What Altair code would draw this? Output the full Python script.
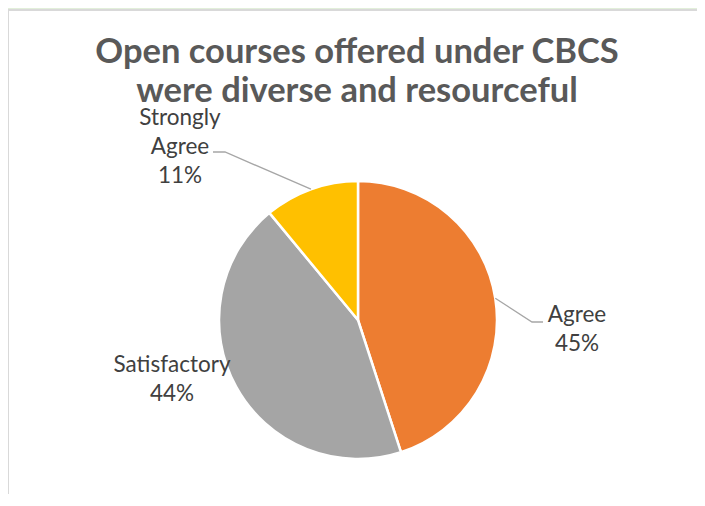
import math
import altair as alt
import pandas as pd

# ---- data ----
categories = ["Agree", "Satisfactory", "Strongly Agree"]
values = [45, 44, 11]
label_names = ["Agree", "Satisfactory", "Strongly\nAgree"]
colors = ["#ED7D31", "#A5A5A5", "#FFC000"]
title_lines = ["Open courses offered under CBCS", "were diverse and resourceful"]

# ---- layout (styles / positions, not data) ----
W, H = 689, 486
CX, CY, R = 350, 312, 139
# offset of the first label line from the pie centre
label_offset = {"Agree": (219, -5), "Satisfactory": (-186, 45), "Strongly Agree": (-178, -202)}
leader_tail = {"Agree": [(174, 2), (185, 2)], "Strongly Agree": [(-133, -168), (-145, -168)]}

total = sum(values)
pie_df = pd.DataFrame({"category": categories, "value": values, "idx": list(range(len(values)))})

# label table
lab_rows = []
for c, v, n in zip(categories, values, label_names):
    ox, oy = label_offset[c]
    lab_rows.append({"category": c, "label": f"{n}\n{round(v / total * 100)}%", "lx": CX + ox, "ly": CY + oy})
lab_df = pd.DataFrame(lab_rows)

# leader lines: start at slice mid-angle on the rim
line_rows = []
cum = 0
for c, v in zip(categories, values):
    mid = (cum + v / 2) / total * 2 * math.pi
    cum += v
    if c not in leader_tail:
        continue
    pts = [(CX + R * math.sin(mid), CY - R * math.cos(mid))]
    pts += [(CX + dx, CY + dy) for dx, dy in leader_tail[c]]
    for i, (px, py) in enumerate(pts):
        line_rows.append({"category": c, "p": i, "lx": px, "ly": py})
line_df = pd.DataFrame(line_rows)

sx = alt.Scale(domain=[0, W], range=[0, W], nice=False, zero=False)
sy = alt.Scale(domain=[0, H], range=[0, H], nice=False, zero=False)

one = pd.DataFrame({"a": [0]})
frame_green = alt.Chart(one).mark_rect(color="#E2EFDA").encode(
    x=alt.value(0), x2=alt.value(W), y=alt.value(0), y2=alt.value(1))
frame_top = alt.Chart(one).mark_rect(color="#D9D9D9").encode(
    x=alt.value(0), x2=alt.value(W), y=alt.value(1), y2=alt.value(3))
frame_left = alt.Chart(one).mark_rect(color="#D9D9D9").encode(
    x=alt.value(0), x2=alt.value(1), y=alt.value(1), y2=alt.value(H))

arcs = alt.Chart(pie_df).mark_arc(outerRadius=R, stroke="white", strokeWidth=2.5).encode(
    theta=alt.Theta("value:Q", stack=True),
    color=alt.Color("category:N", scale=alt.Scale(domain=categories, range=colors), legend=None),
    order=alt.Order("idx:Q"),
    x=alt.value(CX),
    y=alt.value(CY),
)

leaders = alt.Chart(line_df).mark_line(color="#A6A6A6", strokeWidth=1.3).encode(
    x=alt.X("lx:Q", scale=sx, axis=None),
    y=alt.Y("ly:Q", scale=sy, axis=None),
    detail="category:N",
    order="p:Q",
)

labels = alt.Chart(lab_df).mark_text(
    lineBreak="\n", font="Lato", fontSize=22.5, lineHeight=29, color="#404040",
    align="center", baseline="middle",
).encode(
    x=alt.X("lx:Q", scale=sx, axis=None),
    y=alt.Y("ly:Q", scale=sy, axis=None),
    text="label:N",
)

title = alt.Chart(one).mark_text(
    text="\n".join(title_lines), lineBreak="\n", font="Lato", fontSize=34.5, fontWeight="bold",
    lineHeight=39, color="#595959", align="center", baseline="alphabetic",
).encode(x=alt.value(349), y=alt.value(55))

chart = alt.layer(frame_green, frame_top, frame_left, arcs, leaders, labels, title).properties(
    width=W, height=H, autosize=alt.AutoSizeParams(type="none"), padding=0,
    background="white",
).configure_view(stroke=None)

chart.save("out.html", embed_options={"renderer": "svg", "actions": False})
